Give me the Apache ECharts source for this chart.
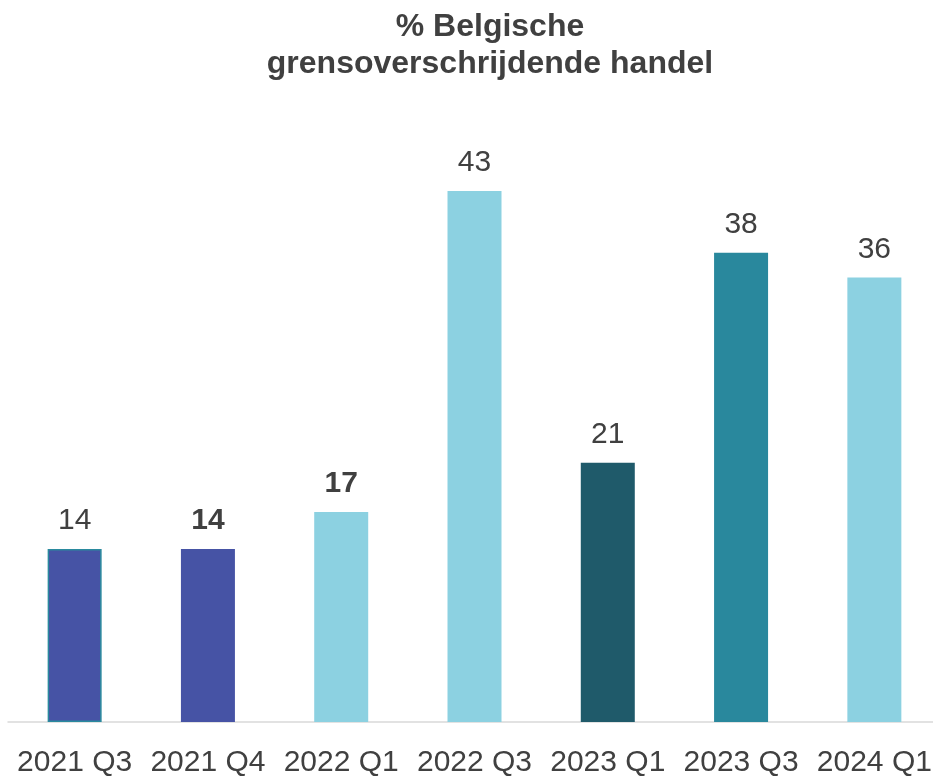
<!DOCTYPE html>
<html>
<head>
<meta charset="utf-8">
<script src="https://cdn.jsdelivr.net/npm/echarts@6/dist/echarts.min.js"></script>
<style>
  html, body { margin: 0; padding: 0; background: #fff; }
  #chart { width: 933px; height: 777px; }
</style>
</head>
<body>
<div id="chart"></div>
<script>
// data
const categories = ['2021 Q3', '2021 Q4', '2022 Q1', '2022 Q3', '2023 Q1', '2023 Q3', '2024 Q1']
const values = [14, 14, 17, 43, 21, 38, 36]
const barColors = ['#4653A5', '#4653A5', '#8CD1E1', '#8CD1E1', '#1F5A6A', '#29889D', '#8CD1E1']
const boldLabels = [false, true, true, false, false, false, false]

const chart = echarts.init(document.getElementById('chart'))

const seriesData = values.map((v, i) => ({
  value: v,
  itemStyle: {
    color: barColors[i],
    borderColor: i === 0 ? '#2A8A9E' : barColors[i],
    borderWidth: i === 0 ? 1.5 : 0
  },
  label: { fontWeight: boldLabels[i] ? 'bold' : 'normal' }
}))

chart.setOption({
  animation: false,
  textStyle: { fontFamily: 'Liberation Sans, Arial, sans-serif' },
  title: {
    text: '% Belgische\ngrensoverschrijdende handel',
    left: 485,
    textAlign: 'center',
    top: 4,
    textStyle: {
      fontSize: 32,
      fontWeight: 'bold',
      color: '#404040',
      lineHeight: 37,
      fontFamily: 'Liberation Sans, Arial, sans-serif'
    }
  },
  grid: { left: 8, width: 933, bottom: 55, top: 104.5, outerBoundsMode: 'none' },
  xAxis: {
    type: 'category',
    data: categories,
    axisLine: { lineStyle: { color: '#D9D9D9', width: 1.5 } },
    axisTick: { show: false },
    axisLabel: {
      fontSize: 30,
      color: '#404040',
      margin: 26,
      interval: 0
    }
  },
  yAxis: {
    type: 'value',
    min: 0,
    max: 50,
    show: false
  },
  series: [{
    type: 'bar',
    data: seriesData,
    barWidth: 54,
    label: {
      show: true,
      position: 'top',
      distance: 13,
      fontSize: 30,
      color: '#404040'
    }
  }]
})
</script>
</body>
</html>
